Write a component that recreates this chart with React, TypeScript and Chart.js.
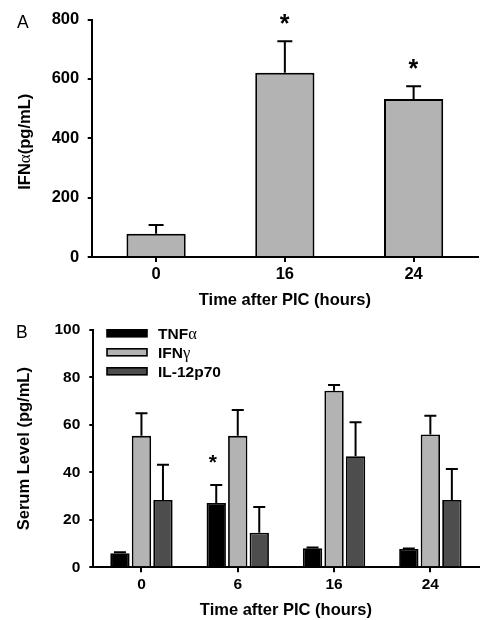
import React, { useEffect, useRef } from "react";
import { Chart, registerables } from "chart.js";

Chart.register(...registerables);

// ---------- Panel A data ----------
const timesA = ["0", "16", "24"];
const ifnAlpha = [78, 621, 532];
const ifnAlphaErr = [30, 106, 43];
const sigA = [false, true, true];

// ---------- Panel B data ----------
const timesB = ["0", "6", "16", "24"];
const tnfAlpha = [5.9, 27.1, 8.0, 7.7];
const tnfAlphaErr = [0.4, 7.6, 0.3, 0.2];
const sigTnf = [false, true, false, false];
const ifnGamma = [55.4, 55.4, 74.4, 56.0];
const ifnGammaErr = [9.5, 10.9, 2.4, 7.9];
const il12p70 = [28.4, 14.6, 46.8, 28.4];
const il12p70Err = [14.8, 10.8, 14.3, 13.0];

const SANS = '"Liberation Sans", Arial, sans-serif';
const SERIF = '"Liberation Serif", "Times New Roman", serif';

const isGreek = (ch: string) => /[\u0370-\u03FF]/.test(ch);

function splitRuns(text: string) {
  const runs: { t: string; g: boolean }[] = [];
  for (const ch of text) {
    const g = isGreek(ch);
    if (runs.length && runs[runs.length - 1].g === g) runs[runs.length - 1].t += ch;
    else runs.push({ t: ch, g });
  }
  return runs;
}

// draws text with Greek letters in a serif (symbol-like) face; x = start, y = cap-center
function drawMixed(ctx: CanvasRenderingContext2D, text: string, x: number, y: number, size: number, greekSize: number, align: "left" | "center") {
  const runs = splitRuns(text);
  const fontFor = (g: boolean) => (g ? `${greekSize}px ${SERIF}` : `bold ${size}px ${SANS}`);
  let total = 0;
  for (const r of runs) {
    ctx.font = fontFor(r.g);
    total += ctx.measureText(r.t).width;
  }
  let cx = align === "center" ? x - total / 2 : x;
  ctx.textAlign = "left";
  ctx.textBaseline = "alphabetic";
  const base = y + size * 0.716 / 2;
  for (const r of runs) {
    ctx.font = fontFor(r.g);
    ctx.fillText(r.t, cx, base);
    cx += ctx.measureText(r.t).width;
  }
}

function drawCentered(ctx: CanvasRenderingContext2D, text: string, cx: number, cy: number, font: string) {
  ctx.font = font;
  ctx.textAlign = "left";
  ctx.textBaseline = "alphabetic";
  const m = ctx.measureText(text);
  const w = m.actualBoundingBoxRight + m.actualBoundingBoxLeft;
  const h = m.actualBoundingBoxAscent + m.actualBoundingBoxDescent;
  const x = cx - w / 2 + m.actualBoundingBoxLeft;
  const y = cy + h / 2 - m.actualBoundingBoxDescent;
  ctx.fillText(text, x, y);
}

const errorBarPlugin = {
  id: "errorBars",
  afterDatasetsDraw(chart: any, _args: any, opts: any) {
    const ctx = chart.ctx as CanvasRenderingContext2D;
    const yScale = chart.scales.y;
    chart.data.datasets.forEach((ds: any, di: number) => {
      const meta = chart.getDatasetMeta(di);
      if (!ds.errors) return;
      meta.data.forEach((bar: any, i: number) => {
        const top = yScale.getPixelForValue(ds.data[i] + ds.errors[i]);
        ctx.save();
        ctx.strokeStyle = "#000";
        ctx.lineWidth = opts.lineWidth || 2;
        ctx.beginPath();
        ctx.moveTo(bar.x, bar.y);
        ctx.lineTo(bar.x, top);
        ctx.moveTo(bar.x - opts.cap / 2, top);
        ctx.lineTo(bar.x + opts.cap / 2, top);
        ctx.stroke();
        if (ds.sig && ds.sig[i]) {
          ctx.fillStyle = "#000";
          drawCentered(ctx, "*", bar.x + (opts.starDx || 0), top - opts.starGap, `bold ${opts.starSize}px ${SANS}`);
        }
        ctx.restore();
      });
    });
  },
};

const annotPlugin = {
  id: "annot",
  afterDraw(chart: any, _args: any, opts: any) {
    const ctx = chart.ctx as CanvasRenderingContext2D;
    const ca = chart.chartArea;
    ctx.save();
    ctx.fillStyle = "#000";
    drawCentered(ctx, opts.letter, opts.letterX, opts.letterY, `17.5px ${SANS}`);
    if (opts.yTitle) {
      ctx.save();
      ctx.translate(opts.yTitleX, (ca.top + ca.bottom) / 2 + (opts.yTitleDy || 0));
      ctx.rotate(-Math.PI / 2);
      drawMixed(ctx, opts.yTitle, 0, 0, 16.5, 17, "center");
      ctx.restore();
    }
    if (opts.legend) {
      const x0 = ca.left + 13.7;
      const y0 = ca.top + 3.3;
      chart.data.datasets.forEach((ds: any, i: number) => {
        const yc = y0 + i * 19;
        ctx.fillStyle = ds.backgroundColor;
        ctx.fillRect(x0, yc - 3.5, 40, 7);
        ctx.strokeStyle = "#000";
        ctx.lineWidth = 1.6;
        ctx.strokeRect(x0, yc - 3.5, 40, 7);
        ctx.fillStyle = "#000";
        drawMixed(ctx, ds.label, x0 + 51, yc, 15.5, 16.5, "left");
      });
    }
    ctx.restore();
  },
};

const tickFont = (size: number) => ({ family: SANS, size, weight: "bold" as const });

function axisX(labelSize: number, height: number) {
  return {
    offset: true,
    grid: { display: true, offset: false, drawOnChartArea: false, drawTicks: true, tickLength: 5, color: "#000", lineWidth: 2 },
    border: { display: true, color: "#000", width: 2 },
    ticks: { color: "#000", font: tickFont(labelSize), padding: 3, maxRotation: 0 },
    title: { display: true, text: "Time after PIC (hours)", color: "#000", font: tickFont(16.5), padding: { top: 0, bottom: 0 } },
    afterFit: (s: any) => { s.height = height; },
  };
}

function axisY(max: number, step: number, labelSize: number, width: number, pad: number, title?: string) {
  return {
    min: 0,
    max,
    grid: { display: true, drawOnChartArea: false, drawTicks: true, tickLength: 4, color: "#000", lineWidth: 2 },
    border: { display: true, color: "#000", width: 2 },
    ticks: { stepSize: step, color: "#000", font: tickFont(labelSize), padding: pad },
    title: title
      ? { display: true, text: title, color: "#000", font: tickFont(16.5), padding: { top: 14.6, bottom: 0 } }
      : { display: false },
    afterFit: (s: any) => { s.width = width; },
  };
}

function PanelA() {
  const ref = useRef<HTMLCanvasElement>(null);
  useEffect(() => {
    const chart = new Chart(ref.current as HTMLCanvasElement, {
      type: "bar",
      data: {
        labels: timesA,
        datasets: [
          {
            label: "IFNα",
            data: ifnAlpha,
            errors: ifnAlphaErr,
            sig: sigA,
            backgroundColor: "#b3b3b3",
            borderColor: "#000",
            borderWidth: 2,
            categoryPercentage: 1,
            barPercentage: 0.46,
          } as any,
        ],
      },
      options: {
        responsive: false,
        animation: false,
        layout: { padding: { left: 0, top: 19.5, right: 13, bottom: 0 } },
        plugins: {
          legend: { display: false },
          tooltip: { enabled: false },
          errorBars: { cap: 15, starGap: 22.5, starSize: 25, lineWidth: 2 },
          annot: { letter: "A", letterX: 23, letterY: 21, yTitle: "IFNα(pg/mL)", yTitleX: 24.5, yTitleDy: 3.5 },
        } as any,
        scales: {
          x: axisX(16.5, 53) as any,
          y: axisY(800, 200, 16.5, 91.7, 8.5) as any,
        },
      },
      plugins: [errorBarPlugin, annotPlugin],
    });
    return () => chart.destroy();
  }, []);
  return <canvas ref={ref} width={491} height={310} style={{ display: "block" }} />;
}

function PanelB() {
  const ref = useRef<HTMLCanvasElement>(null);
  useEffect(() => {
    const common = { borderColor: "#000", borderWidth: 1.8, categoryPercentage: 0.67, barPercentage: 0.9 };
    const chart = new Chart(ref.current as HTMLCanvasElement, {
      type: "bar",
      data: {
        labels: timesB,
        datasets: [
          { label: "TNFα", data: tnfAlpha, errors: tnfAlphaErr, sig: sigTnf, backgroundColor: "#000000", ...common } as any,
          { label: "IFNγ", data: ifnGamma, errors: ifnGammaErr, backgroundColor: "#b3b3b3", ...common } as any,
          { label: "IL-12p70", data: il12p70, errors: il12p70Err, backgroundColor: "#4d4d4d", ...common } as any,
        ],
      },
      options: {
        responsive: false,
        animation: false,
        layout: { padding: { left: 0, top: 20, right: 12.5, bottom: 0 } },
        plugins: {
          legend: { display: false },
          tooltip: { enabled: false },
          errorBars: { cap: 12, starGap: 25.5, starSize: 21, starDx: -3, lineWidth: 2 },
          annot: { letter: "B", letterX: 22, letterY: 21, legend: true },
        } as any,
        scales: {
          x: axisX(15.5, 52.7) as any,
          y: axisY(100, 20, 15.5, 93.3, 9, "Serum Level (pg/mL)") as any,
        },
      },
      plugins: [errorBarPlugin, annotPlugin],
    });
    return () => chart.destroy();
  }, []);
  return <canvas ref={ref} width={491} height={310} style={{ display: "block" }} />;
}

export default function App() {
  return (
    <div style={{ position: "fixed", left: 0, top: 0, width: 491, height: 620, background: "#fff" }}>
      <PanelA />
      <PanelB />
    </div>
  );
}
